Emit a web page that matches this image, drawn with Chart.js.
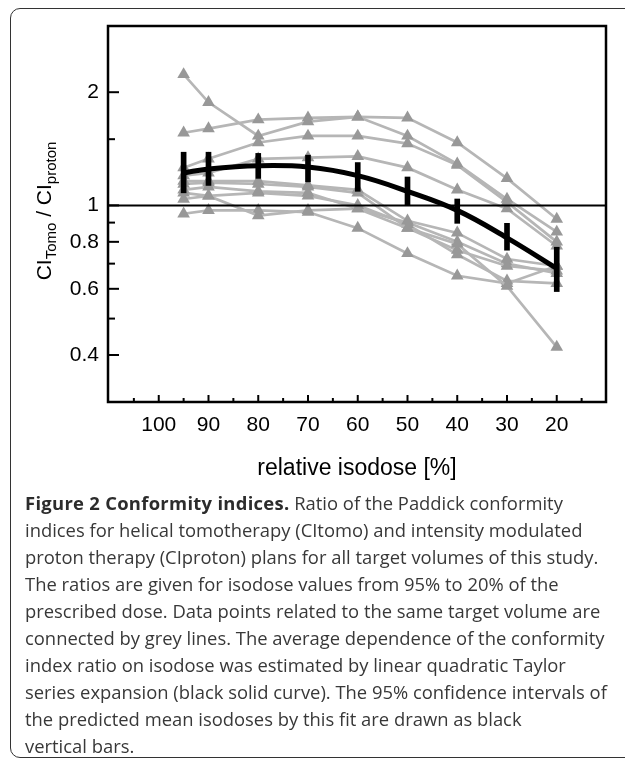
<!DOCTYPE html>
<html>
<head>
<meta charset="utf-8">
<script src="https://cdn.jsdelivr.net/npm/chart.js@4.4.1/dist/chart.umd.min.js"></script>
<style>
  body { margin: 0; width: 625px; height: 758px; background: #fff; position: relative; overflow: hidden; }
  #frame { position: absolute; left: 10px; top: 8px; width: 660px; height: 748px;
           border: 1.5px solid #333; border-radius: 10px 0 0 10px; }
  #plot { position: absolute; left: 0; top: 0; width: 625px; height: 490px; }
  #ytitle { position: absolute; left: -36px; top: 199px; width: 160px; height: 24px; line-height: 24px;
            text-align: center; white-space: nowrap; transform: rotate(-90deg);
            font: 21px "Liberation Sans", Arial, sans-serif; color: #000; }
  #ytitle span { font-size: 15px; position: relative; top: 5px; }
  #caption { position: absolute; left: 25px; top: 489px; white-space: nowrap;
             font: 18.4px "Open Sans", sans-serif; line-height: 27px; color: #383838; }
  #caption b { color: #2c2c2c; letter-spacing: 0.3px; }
</style>
</head>
<body>
<div id="frame"></div>
<div id="plot"><canvas id="grafico"></canvas></div>
<div id="ytitle">CI<span>Tomo</span> / CI<span>proton</span></div>
<div id="caption">
<b>Figure 2 Conformity indices.</b> Ratio of the Paddick conformity<br>
indices for helical tomotherapy (CItomo) and intensity modulated<br>
proton therapy (CIproton) plans for all target volumes of this study.<br>
The ratios are given for isodose values from 95% to 20% of the<br>
prescribed dose. Data points related to the same target volume are<br>
connected by grey lines. The average dependence of the conformity<br>
index ratio on isodose was estimated by linear quadratic Taylor<br>
series expansion (black solid curve). The 95% confidence intervals of<br>
the predicted mean isodoses by this fit are drawn as black<br>
vertical bars.
</div>
<script>
/* data */
var isodose = [95, 90, 80, 70, 60, 50, 40, 30, 20];

var volume1  = [2.23, 1.88, 1.53, 1.67, 1.72, 1.71, 1.47, 1.18, 0.92];
var volume2  = [1.56, 1.60, 1.69, 1.71, 1.72, 1.53, 1.29, 1.04, 0.85];
var volume3  = [1.26, 1.33, 1.47, 1.53, 1.53, 1.46, 1.28, 1.02, 0.80];
var volume4  = [1.20, 1.22, 1.33, 1.34, 1.35, 1.26, 1.10, 0.98, 0.78];
var volume5  = [1.16, 1.16, 1.16, 1.13, 1.10, 0.91, 0.845, 0.72, 0.69];
var volume6  = [1.14, 1.15, 1.14, 1.12, 1.08, 0.87, 0.79, 0.61, 0.42];
var volume7  = [1.10, 1.12, 1.09, 1.08, 0.98, 0.87, 0.76, 0.69, 0.67];
var volume8  = [1.08, 1.06, 1.08, 1.06, 1.00, 0.89, 0.74, 0.63, 0.62];
var volume9  = [1.04, 1.06, 0.94, 0.97, 0.98, 0.90, 0.80, 0.70, 0.66];
var volume10 = [0.95, 0.97, 0.97, 0.96, 0.87, 0.745, 0.65, 0.62, 0.69];

var fitMean = [1.22, 1.25, 1.275, 1.265, 1.20, 1.09, 0.97, 0.82, 0.68];
var fitLow  = [1.08, 1.13, 1.18, 1.155, 1.09, 1.00, 0.896, 0.76, 0.59];
var fitHigh = [1.385, 1.385, 1.375, 1.36, 1.30, 1.19, 1.04, 0.896, 0.774];

var xTickValues = [105, 100, 95, 90, 85, 80, 75, 70, 65, 60, 55, 50, 45, 40, 35, 30, 25, 20, 15];
var xTickLabels = [100, 90, 80, 70, 60, 50, 40, 30, 20];
var yTickValues = [0.4, 0.5, 0.6, 0.7, 0.8, 0.9, 1, 1.5, 2];
var yTickLabels = [0.4, 0.6, 0.8, 1, 2];

var xMin = 10.1, xMax = 110.2;
var yMin = 0.33, yMax = 3.0;

var greyLine = 'rgb(182,182,182)';
var greyMark = 'rgb(152,152,152)';

/* datasets */
var volumes = [volume1, volume2, volume3, volume4, volume5, volume6, volume7, volume8, volume9, volume10];
var datasets = [];

datasets.push({
  type: 'bar',
  data: isodose.map(function(x, i){ return {x: x, y: [fitLow[i], fitHigh[i]]}; }),
  backgroundColor: '#000',
  borderWidth: 0,
  barThickness: 5,
  order: 0
});
datasets.push({
  type: 'line',
  data: isodose.map(function(x, i){ return {x: x, y: fitMean[i]}; }),
  borderColor: '#000',
  borderWidth: 5,
  pointRadius: 0,
  tension: 0.4,
  order: 1
});
datasets.push({
  type: 'line',
  data: [{x: xMax, y: 1}, {x: xMin, y: 1}],
  borderColor: '#000',
  borderWidth: 2,
  pointRadius: 0,
  order: 2
});
for (var k = 0; k < volumes.length; k++) {
  var v = volumes[k];
  datasets.push({
    type: 'line',
    data: isodose.map(function(x, i){ return {x: x, y: v[i]}; }),
    borderColor: greyLine,
    borderWidth: 2.7,
    pointStyle: 'triangle',
    pointRadius: 7.3,
    pointBackgroundColor: greyMark,
    pointBorderColor: greyMark,
    pointBorderWidth: 0,
    order: 3 + k
  });
}

/* inward ticks + box */
var frameAndTicks = {
  id: 'frameAndTicks',
  afterDatasetsDraw: function(chart) {
    var ctx = chart.ctx, a = chart.chartArea;
    var xs = chart.scales.x, ys = chart.scales.y;
    ctx.save();
    ctx.strokeStyle = '#000';
    ctx.lineWidth = 2;
    yTickValues.forEach(function(val){
      var p = ys.getPixelForValue(val);
      var len = yTickLabels.indexOf(val) >= 0 ? 11 : 7;
      ctx.beginPath(); ctx.moveTo(a.left, p); ctx.lineTo(a.left + len, p); ctx.stroke();
    });
    xTickValues.forEach(function(val){
      var p = xs.getPixelForValue(val);
      var len = xTickLabels.indexOf(val) >= 0 ? 7 : 4;
      ctx.beginPath(); ctx.moveTo(p, a.bottom); ctx.lineTo(p, a.bottom - len); ctx.stroke();
    });
    ctx.lineWidth = 2.5;
    ctx.strokeRect(a.left, a.top, a.right - a.left, a.bottom - a.top);
    ctx.restore();
  }
};

var tickFont = {family: '"Liberation Sans", Arial, sans-serif', size: 21};
var titleFont = {family: '"Liberation Sans", Arial, sans-serif', size: 23};

var ctx = document.getElementById('grafico');
var chart = new Chart(ctx, {
  type: 'line',
  data: {datasets: datasets},
  plugins: [frameAndTicks],
  options: {
    responsive: true,
    maintainAspectRatio: false,
    animation: false,
    layout: {padding: {top: 26, right: 19, left: 0, bottom: 0}},
    plugins: {legend: {display: false}, tooltip: {enabled: false}},
    scales: {
      x: {
        type: 'linear',
        reverse: true,
        min: xMin,
        max: xMax,
        offset: false,
        grid: {display: false, drawTicks: false},
        border: {display: false},
        afterBuildTicks: function(scale){ scale.ticks = xTickValues.map(function(t){ return {value: t}; }); },
        afterFit: function(scale){ scale.height = 88; },
        ticks: {
          autoSkip: false, maxRotation: 0, padding: 11, color: '#000', font: tickFont,
          callback: function(value){ return xTickLabels.indexOf(value) >= 0 ? String(value) : ''; }
        },
        title: {display: true, text: 'relative isodose [%]', color: '#000', font: titleFont, padding: {top: 0, bottom: 8}}
      },
      y: {
        type: 'logarithmic',
        min: yMin,
        max: yMax,
        grid: {display: false, drawTicks: false},
        border: {display: false},
        afterBuildTicks: function(scale){ scale.ticks = yTickValues.map(function(t){ return {value: t}; }); },
        afterFit: function(scale){ scale.width = 108; },
        ticks: {
          autoSkip: false, padding: 9, color: '#000', font: tickFont,
          callback: function(value){ return yTickLabels.indexOf(value) >= 0 ? String(value) : ''; }
        }
      }
    }
  }
});
</script>
</body>
</html>
